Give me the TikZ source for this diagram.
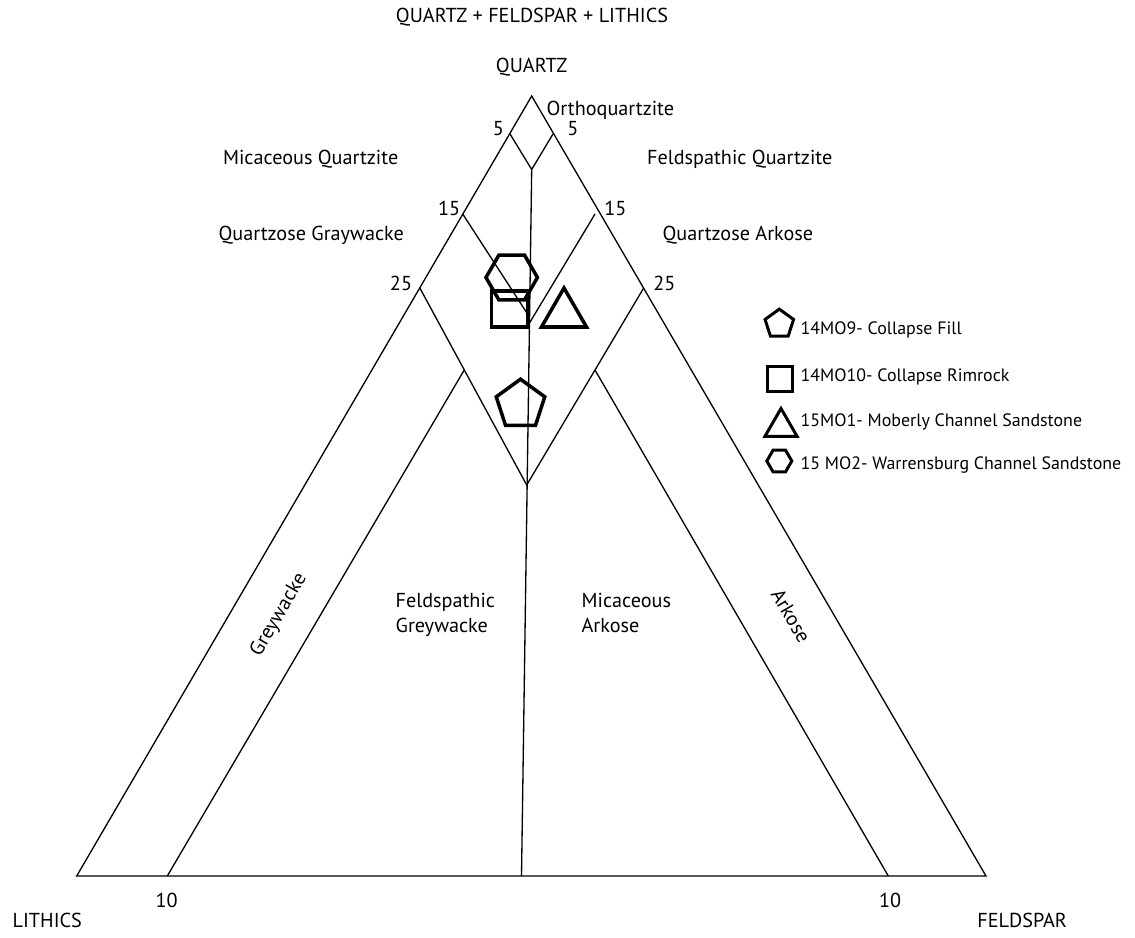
\documentclass[tikz,border=0pt]{standalone}
\usepackage{fontspec}
\setmainfont{PT Sans}
\usetikzlibrary{shapes.geometric}

\begin{document}
\begin{tikzpicture}[
        x=0.02cm, y=-0.02cm,
        line width=0.75pt,
        every node/.style={inner sep=0pt, font=\fontsize{11.5}{14.2}\selectfont},
        lbl/.style={anchor=base},
        field/.style={anchor=base west},
        key/.style={anchor=base west, font=\fontsize{10.2}{12}\selectfont},
        sample/.style={draw, regular polygon, line width=2pt, inner sep=0pt},
        keymark/.style={draw, regular polygon, line width=1.7pt, inner sep=0pt}
    ]
    \useasboundingbox (0,0) rectangle (1135,937);
    % corners of the triangle
    \coordinate (L) at (76.7,876);
    \coordinate (F) at (986,876);
    \coordinate (Q) at (531.7,96);
    % tick points
    \coordinate (q5l) at (510,134);
    \coordinate (q5r) at (553,134);
    \coordinate (d5) at (531.7,169.5);
    \coordinate (q15l) at (462.7,214);
    \coordinate (q15r) at (595,214);
    \coordinate (v15l) at (529.3,316.7);
    \coordinate (v15r) at (529.3,323.3);
    \coordinate (q25l) at (420,288.3);
    \coordinate (q25r) at (643.5,288.3);
    \coordinate (v25) at (526.7,485);
    \coordinate (t10l) at (167.3,876);
    \coordinate (t10r) at (888.3,876);
    \coordinate (i10l) at (464.2,370);
    \coordinate (i10r) at (595,370);
    \coordinate (mid) at (521.5,876);

    \draw (L) -- (Q) -- (F) -- cycle;
    \draw (q5l) -- (d5) -- (q5r);
    \draw (d5) -- (mid);
    \draw (q15l) -- (v15l);
    \draw (q15r) -- (v15r);
    \draw (q25l) -- (v25) -- (q25r);
    \draw (t10l) -- (i10l);
    \draw (t10r) -- (i10r);

    % end members and ticks
    \node[lbl] (title) at (532,22.7) {QUARTZ + FELDSPAR + LITHICS};
    \node[lbl] (quartz) at (531.6,72.7) {QUARTZ};
    \node[field] (lithics) at (12,927) {LITHICS};
    \node[field] (feldspar) at (976.7,927) {FELDSPAR};
    \node[lbl] (n5l) at (498.3,135.3) {5};
    \node[lbl] (n5r) at (572.9,135.3) {5};
    \node[lbl] (n15l) at (449.2,215.5) {15};
    \node[lbl] (n15r) at (615.3,215.5) {15};
    \node[lbl] (n25l) at (401,290) {25};
    \node[lbl] (n25r) at (664.4,290) {25};
    \node[lbl] (n10l) at (166.7,907) {10};
    \node[lbl] (n10r) at (890,907) {10};

    % rock names
    \node[field] (ortho) at (546,115) {Orthoquartzite};
    \node[field] (micq) at (222.4,164.5) {Micaceous Quartzite};
    \node[field] (feldq) at (646.5,164.5) {Feldspathic Quartzite};
    \node[field] (qgray) at (218,240) {Quartzose Graywacke};
    \node[field] (qark) at (662,240) {Quartzose Arkose};
    \node[anchor=north west, align=left] (fgrey) at (395,592.5) {Feldspathic\\Greywacke};
    \node[anchor=north west, align=left] (mark) at (581,592.5) {Micaceous\\Arkose};
    \node[rotate=59.7] (grey) at (279,615) {Greywacke};
    \node[rotate=-59.7] (ark) at (791,616) {Arkose};

    % samples
    \node[sample, regular polygon sides=4, minimum size=1.03cm] (s10) at (509.7,309) {};
    \node[sample, regular polygon sides=6, minimum size=1.03cm] (s2) at (511.7,277.5) {};
    \node[sample, regular polygon sides=3, minimum size=1.04cm] (s1) at (564,314) {};
    \node[sample, regular polygon sides=5, minimum size=1.02cm] (s9) at (520.5,404.7) {};

    % legend
    \node[keymark, regular polygon sides=5, minimum size=0.6cm] (k9) at (779.3,324.1) {};
    \node[keymark, regular polygon sides=4, minimum size=0.7cm] (k10) at (779.7,378.8) {};
    \node[keymark, regular polygon sides=3, minimum size=0.74cm] (k1) at (781,427) {};
    \node[keymark, regular polygon sides=6, minimum size=0.5cm] (k2) at (779.3,461) {};
    \node[key] (t9) at (800,334) {14MO9- Collapse Fill};
    \node[key] (t10) at (800,381) {14MO10- Collapse Rimrock};
    \node[key] (t1) at (800,426) {15MO1- Moberly Channel Sandstone};
    \node[key] (t2) at (800,469.3) {15 MO2- Warrensburg Channel Sandstone};
\end{tikzpicture}
\end{document}
